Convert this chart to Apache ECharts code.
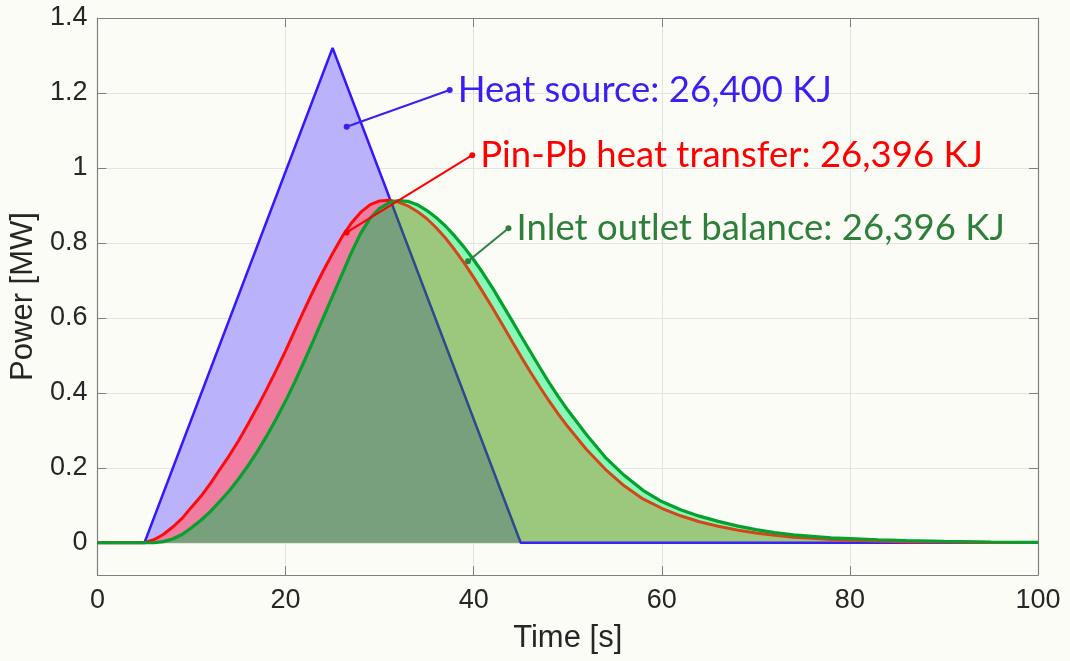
<!DOCTYPE html>
<html>
<head>
<meta charset="utf-8">
<script src="https://cdn.jsdelivr.net/npm/echarts@6/dist/echarts.min.js"></script>
<style>
html,body{margin:0;padding:0;background:#fcfcf7;}
#chart{width:1070px;height:661px;}
</style>
</head>
<body>
<div id="chart"></div>
<script>
// ---------- data ----------
const time = [0,5,6,7,8,9,10,11,12,13,14,15,16,17,18,19,20,21,22,23,24,25,26,27,28,29,30,31,32,33,34,35,36,37,38,39,40,41,42,43,44,45,46,47,48,49,50,52,54,56,58,60,62,64,66,68,70,72,74,76,78,80,83,86,90,95,100];
const pinPbPower = [0,0,0.008,0.022,0.042,0.065,0.095,0.124,0.158,0.195,0.232,0.272,0.316,0.362,0.41,0.46,0.512,0.567,0.622,0.675,0.725,0.772,0.816,0.853,0.882,0.902,0.912,0.914,0.909,0.899,0.884,0.865,0.841,0.813,0.781,0.746,0.708,0.668,0.627,0.584,0.541,0.498,0.457,0.417,0.379,0.343,0.31,0.249,0.196,0.152,0.117,0.092,0.072,0.056,0.044,0.034,0.026,0.02,0.015,0.012,0.009,0.007,0.005,0.003,0.002,0.001,0.0005];
const inletOutletPower = [0,0,0,0.003,0.01,0.022,0.04,0.06,0.083,0.11,0.138,0.17,0.205,0.243,0.285,0.33,0.378,0.43,0.485,0.542,0.6,0.658,0.716,0.774,0.826,0.866,0.892,0.907,0.913,0.911,0.902,0.887,0.868,0.845,0.818,0.788,0.755,0.719,0.68,0.638,0.596,0.553,0.511,0.469,0.428,0.39,0.354,0.288,0.228,0.18,0.14,0.11,0.088,0.071,0.057,0.045,0.035,0.027,0.021,0.017,0.013,0.011,0.008,0.006,0.004,0.002,0.001];
const heatSourceTime = [0,5,25,45,100];
const heatSourcePower = [0,0,1.32,0,0];

const xTicks = [0,20,40,60,80,100];
const yMin = -0.086, yMax = 1.4;

const labels = {
  heat: 'Heat source: 26,400 KJ',
  pin: 'Pin-Pb heat transfer: 26,396 KJ',
  inlet: 'Inlet outlet balance: 26,396 KJ'
};
// annotation anchors in data coordinates [time, power]
const heatAnno = [[26.5, 1.11], [37.45, 1.208]];
const pinAnno = [[26.5, 0.828], [39.85, 1.034]];
const inletAnno = [[39.4, 0.751], [43.7, 0.839]];

// ---------- helpers ----------
function interp(xs, ys, x) {
  for (let i = 0; i < xs.length - 1; i++) {
    if (x >= xs[i] && x <= xs[i + 1]) {
      const t = (x - xs[i]) / (xs[i + 1] - xs[i]);
      return ys[i] + t * (ys[i + 1] - ys[i]);
    }
  }
  return ys[ys.length - 1];
}
const blueOnGrid = time.map(t => interp(heatSourceTime, heatSourcePower, t));
function minWithCross(xs, a, b) {
  const out = [];
  for (let i = 0; i < xs.length; i++) {
    out.push([xs[i], Math.min(a[i], b[i])]);
    if (i < xs.length - 1) {
      const d0 = a[i] - b[i], d1 = a[i + 1] - b[i + 1];
      if (d0 * d1 < 0) {
        const t = d0 / (d0 - d1);
        out.push([xs[i] + t * (xs[i + 1] - xs[i]), a[i] + t * (a[i + 1] - a[i])]);
      }
    }
  }
  return out;
}
function firstCross(xs, a, b, from) {
  for (let i = 0; i < xs.length - 1; i++) {
    if (xs[i] < from) continue;
    const d0 = a[i] - b[i], d1 = a[i + 1] - b[i + 1];
    if (d0 > 0 && d1 <= 0) {
      const t = d0 / (d0 - d1);
      return xs[i] + t * (xs[i + 1] - xs[i]);
    }
  }
  return xs[xs.length - 1];
}
const pairs = (xs, ys) => xs.map((x, i) => [x, ys[i]]);

const redData = pairs(time, pinPbPower);
const greenData = pairs(time, inletOutletPower);
const blueData = pairs(heatSourceTime, heatSourcePower);
const oliveData = minWithCross(time, pinPbPower, inletOutletPower);
const darkData = minWithCross(time, blueOnGrid, inletOutletPower);

const xSpan = 100;
const blueCross = firstCross(time, blueOnGrid, inletOutletPower, 20) / xSpan;
const blueEnd = heatSourceTime[3] / xSpan;
const redCross = firstCross(time, pinPbPower, inletOutletPower, 20) / xSpan;

function grad(stops) {
  return new echarts.graphic.LinearGradient(0, 0, 1, 0, stops);
}

const chart = echarts.init(document.getElementById('chart'), null, {renderer: 'canvas'});

const axisGray = '#808080';
const tickFont = {fontFamily: 'Liberation Sans', fontSize: 27, color: '#262626'};

function areaSeries(data, color) {
  return {
    type: 'line', data, showSymbol: false, silent: true, smooth: false,
    lineStyle: {width: 0, opacity: 0},
    areaStyle: {color, opacity: 1},
    z: 2
  };
}
function annoSeries(pts, text, textColor, lineColor) {
  return {
    type: 'line', silent: true, z: 6,
    data: [
      {value: pts[0]},
      {value: pts[1], label: {show: true, position: 'right', distance: 5,
        formatter: () => text,
        color: textColor, fontFamily: 'Lato', fontSize: 36.5}}
    ],
    symbol: 'circle', symbolSize: 6, showSymbol: true,
    itemStyle: {color: lineColor},
    lineStyle: {color: lineColor, width: 2},
    label: {show: false}
  };
}

const option = {
  animation: false,
  backgroundColor: '#fcfcf7',
  grid: {left: 96, right: 32, top: 18, bottom: 86, containLabel: false},
  xAxis: [
    {
      type: 'value', min: xTicks[0], max: xTicks[xTicks.length - 1], interval: 20,
      name: 'Time [s]', nameLocation: 'middle', nameGap: 48,
      nameTextStyle: {fontFamily: 'Liberation Sans', fontSize: 31, color: '#262626'},
      axisLine: {show: true, onZero: false, lineStyle: {color: axisGray, width: 1.2}},
      axisTick: {show: true, inside: true, length: 9, lineStyle: {color: axisGray}},
      axisLabel: Object.assign({margin: 12}, tickFont),
      splitLine: {show: true, lineStyle: {color: '#e4e4e0', width: 1}}
    },
    {
      type: 'value', position: 'top', min: xTicks[0], max: xTicks[xTicks.length - 1], interval: 20,
      axisLine: {show: true, onZero: false, lineStyle: {color: axisGray, width: 1.2}},
      axisTick: {show: true, inside: true, length: 9, lineStyle: {color: axisGray}},
      axisLabel: {show: false}, splitLine: {show: false}
    }
  ],
  yAxis: [
    {
      type: 'value', min: yMin, max: yMax, splitNumber: 7,
      name: 'Power [MW]', nameLocation: 'middle', nameGap: 52, nameRotate: 90,
      nameTextStyle: {fontFamily: 'Liberation Sans', fontSize: 31, color: '#262626'},
      axisLine: {show: true, onZero: false, lineStyle: {color: axisGray, width: 1.2}},
      axisTick: {show: true, inside: true, length: 9, lineStyle: {color: axisGray}},
      axisLabel: Object.assign({margin: 10, showMinLabel: false}, tickFont),
      splitLine: {show: true, lineStyle: {color: '#e4e4e0', width: 1}}
    },
    {
      type: 'value', position: 'right', min: yMin, max: yMax, splitNumber: 7,
      axisLine: {show: true, onZero: false, lineStyle: {color: axisGray, width: 1.2}},
      axisTick: {show: true, inside: true, length: 9, lineStyle: {color: axisGray}},
      axisLabel: {show: false}, splitLine: {show: false}
    }
  ],
  series: [
    areaSeries(blueData, '#bab2fa'),
    areaSeries(redData, '#f07ca0'),
    areaSeries(greenData, '#88f8b8'),
    areaSeries(oliveData, '#9bc87d'),
    areaSeries(darkData, '#78a07d'),
    {
      type: 'line', data: blueData, showSymbol: false, silent: true, z: 4,
      lineStyle: {width: 2.5, color: grad([
        {offset: 0, color: '#3319ff'}, {offset: blueCross, color: '#3319ff'},
        {offset: blueCross, color: '#2d4a8c'}, {offset: blueEnd, color: '#2d4a8c'},
        {offset: blueEnd, color: '#3a22f0'}, {offset: 1, color: '#3a22f0'}])}
    },
    {
      type: 'line', data: redData, showSymbol: false, silent: true, z: 4,
      lineStyle: {width: 3, color: grad([
        {offset: 0, color: '#ff0a0a'}, {offset: redCross, color: '#ff0a0a'},
        {offset: redCross, color: '#d4461a'}, {offset: 1, color: '#d4461a'}])}
    },
    {
      type: 'line', data: greenData, showSymbol: false, silent: true, z: 5,
      lineStyle: {width: 3.2, color: '#05a02d'}
    },
    annoSeries(heatAnno, labels.heat, '#3a1ff5', '#3a1ff5'),
    annoSeries(pinAnno, labels.pin, '#ff0000', '#ff0000'),
    annoSeries(inletAnno, labels.inlet, '#2f7f3c', '#2f7f40')
  ]
};
chart.setOption(option);
</script>
</body>
</html>
